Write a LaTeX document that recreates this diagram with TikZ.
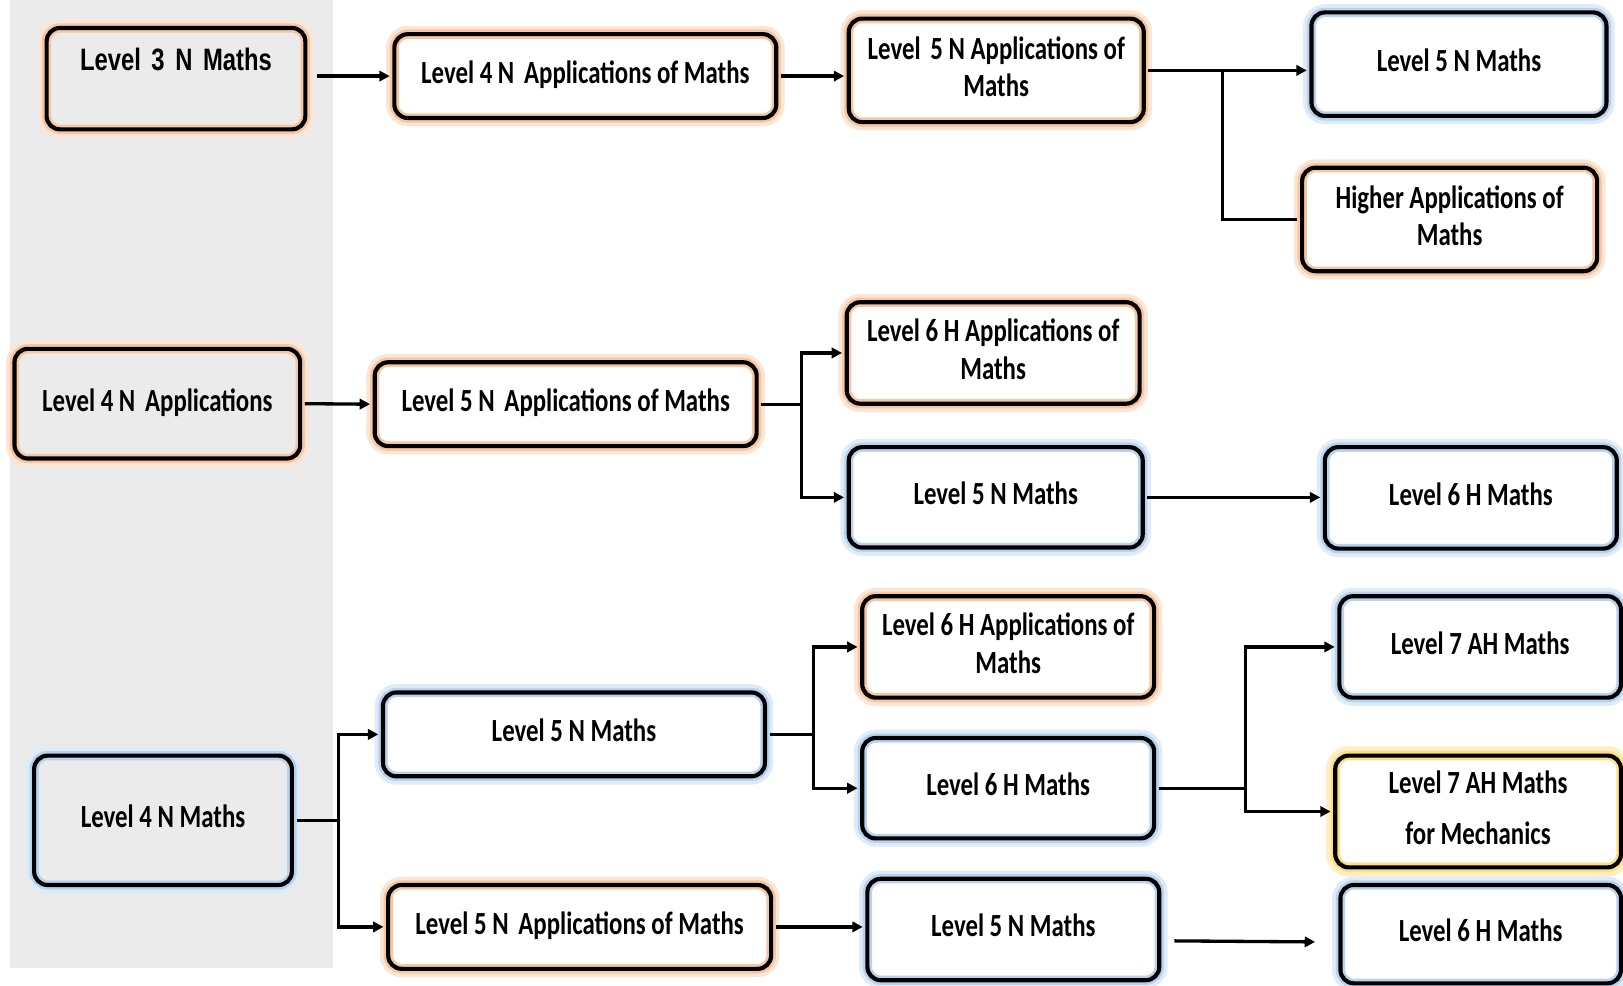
\documentclass[tikz,border=0pt]{standalone}
\usepackage{fontspec}
\setmainfont{Carlito}
\newfontfamily\arialfont{Liberation Sans}
\usetikzlibrary{arrows.meta}
\definecolor{panel}{HTML}{EBEBEB}
\definecolor{glowO}{HTML}{F7C6A2}
\definecolor{glowB}{HTML}{B8D3EE}
\definecolor{glowY}{HTML}{FFDF85}
\newcommand{\tx}[1]{\scalebox{1}[1.3]{\begin{tabular}{@{}c@{}}#1\end{tabular}}}
\tikzset{
  box/.style={rounded corners=13pt, line width=9pt, inner sep=0pt, align=center,
    font=\bfseries\fontsize{24}{27.7}\selectfont, text=black,
    postaction={draw=black, line width=4pt}},
  obox/.style={box, draw=glowO, fill=white, preaction={draw=glowO!45, line width=16pt}},
  bbox/.style={box, draw=glowB, fill=white, preaction={draw=glowB!45, line width=16pt}},
  ybox/.style={box, draw=glowY, fill=white, preaction={draw=glowY!50, line width=18pt}},
  conn/.style={line width=3.2pt, draw=black},
  arr/.style={conn, -{Triangle[length=10pt,width=10pt]}},
}
\begin{document}
\begin{tikzpicture}[x=1pt,y=-1pt]
\useasboundingbox (0,0) rectangle (1568,952);
\fill[white] (0,0) rectangle (1568,952);
\fill[panel] (10,0) rectangle (322,935);

% Row 1
\node[obox, fill=panel, minimum width=250pt, minimum height=98pt] (A1) at (170,76)
  {\raisebox{8pt}[0pt][0pt]{\scalebox{1}[1.3]{\arialfont\bfseries\fontsize{23}{26}\selectfont Level\, 3\, N\, Maths}}};
\node[obox, minimum width=369pt, minimum height=81pt] (A2) at (565.5,73.5) {\tx{Level 4 N\, Applications of Maths}};
\node[obox, minimum width=285pt, minimum height=100pt] (A3) at (962.5,68) {\tx{Level\, 5 N Applications of\\Maths}};
\node[bbox, minimum width=285pt, minimum height=100pt] (A4) at (1409.5,62) {\tx{Level 5 N Maths}};
\node[obox, minimum width=285pt, minimum height=100pt] (A5) at (1400.5,212) {\tx{Higher Applications of\\Maths}};

% Row 2
\node[obox, fill=panel, minimum width=276pt, minimum height=106pt] (B1) at (152,390) {\tx{Level 4 N\, Applications}};
\node[obox, minimum width=369pt, minimum height=81pt] (B2) at (546.5,390.5) {\tx{Level 5 N\, Applications of Maths}};
\node[obox, minimum width=283pt, minimum height=98pt] (B3) at (959.5,341) {\tx{Level 6 H Applications of\\Maths}};
\node[bbox, minimum width=284pt, minimum height=97pt] (B4) at (962,480.5) {\tx{Level 5 N Maths}};
\node[bbox, minimum width=282pt, minimum height=98pt] (B5) at (1421,481) {\tx{Level 6 H Maths}};

% Row 3
\node[bbox, fill=panel, minimum width=249pt, minimum height=125pt] (C1) at (157.5,792.5) {\tx{Level 4 N Maths}};
\node[bbox, minimum width=369pt, minimum height=81pt] (C2) at (554.5,709.5) {\tx{Level 5 N Maths}};
\node[obox, minimum width=370pt, minimum height=81pt] (C3) at (560,895.5) {\tx{Level 5 N\, Applications of Maths}};
\node[obox, minimum width=282pt, minimum height=98pt] (C4) at (974,625) {\tx{Level 6 H Applications of\\Maths}};
\node[bbox, minimum width=282pt, minimum height=97pt] (C5) at (974,761.5) {\tx{Level 6 H Maths}};
\node[bbox, minimum width=282pt, minimum height=98pt] (C6) at (979,898) {\tx{Level 5 N Maths}};
\node[bbox, minimum width=272pt, minimum height=98pt] (C7) at (1430,625) {\tx{Level 7 AH Maths}};
\node[ybox, minimum width=276pt, minimum height=108pt] (C8) at (1428,784) {\tx{Level 7 AH Maths\\[10pt]for Mechanics}};
\node[bbox, minimum width=271pt, minimum height=95pt] (C9) at (1430.5,902.5) {\tx{Level 6 H Maths}};

% Connectors row 1
\draw[arr] ([xshift=7pt]A1.east |- A2.west) -- (A2.west);
\draw[arr] (A2.east) -- (A2.east -| A3.west);
\coordinate (a3b) at (1181,68);
\draw[arr] (A3.east) -- (A3.east -| A4.west);
\draw[conn] (a3b) |- (A5.west);

% Connectors row 2
\draw[arr] (B1.east) -- (B2.west);
\coordinate (b2b) at (774,390.5);
\draw[conn] (B2.east) -- (b2b);
\draw[arr] (b2b) |- (B3.west);
\draw[arr] (b2b) |- (B4.west);
\draw[arr] (B4.east) -- (B4.east -| B5.west);

% Connectors row 3
\coordinate (c1b) at (327,792.5);
\draw[conn] (C1.east) -- (c1b);
\draw[arr] (c1b) |- (C2.west);
\draw[arr] (c1b) |- (C3.west);
\coordinate (c2b) at (786,709.5);
\draw[conn] (C2.east) -- (c2b);
\draw[arr] (c2b) |- (C4.west);
\draw[arr] (c2b) |- (C5.west);
\draw[arr] (C3.east) -- (C3.east -| C6.west);
\coordinate (c5b) at (1203,761.5);
\draw[conn] (C5.east) -- (c5b);
\draw[arr] (c5b) |- (C7.west);
\draw[arr] (c5b) |- (C8.west);
\draw[arr] ([xshift=10pt,yshift=-11pt]C6.east) -- ([xshift=-20pt,yshift=-7.5pt]C9.west);
\end{tikzpicture}
\end{document}
